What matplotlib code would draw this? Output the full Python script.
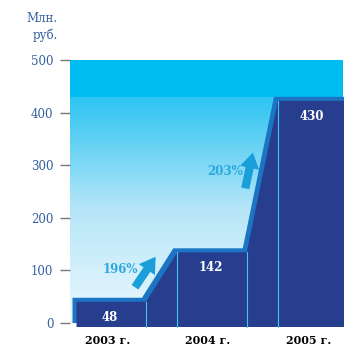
import numpy as np
import matplotlib
matplotlib.use("Agg")
from matplotlib import pyplot as plt
from matplotlib import transforms
from matplotlib.colors import LinearSegmentedColormap

years = ["2003 г.", "2004 г.", "2005 г."]
revenue = [48, 142, 430]
growth = ["196%", "203%"]
yticks = [0, 100, 200, 300, 400, 500]

DARK = "#273d8d"
BEVEL = "#1c74c4"
EDGE = "#42c4f0"
CYAN = "#00bdf1"
ARROW = "#1a9fda"
TICK_BLUE = "#33609f"

HALF = 0.345  # half width of each flat step

fig = plt.figure(figsize=(3.44, 3.46), dpi=100)
W, H = 344, 346
ax = fig.add_axes([70 / W, (H - 323) / H, 273 / W, 263 / H])
ax.set_xlim(-0.37, 2.34)
ax.set_ylim(0, 500)

# background: solid cyan above the top step, fading to white below
grad = LinearSegmentedColormap.from_list("bg", ["#ecf8fd", "#b6e6f8", "#2cc4f1"])
ys = np.linspace(0, 1, 256).reshape(-1, 1)
ax.imshow(ys, extent=(-0.37, 2.34, 0, revenue[-1]), origin="lower",
          cmap=grad, aspect="auto", zorder=0)
ax.axhspan(revenue[-1], 500, color=CYAN, lw=0, zorder=0)

# step outline built from the values
xs, vs = [], []
for i, v in enumerate(revenue):
    xs += [i - HALF, i + HALF]
    vs += [v, v]
poly_x = [xs[0]] + xs + [xs[-1] + 0.2, xs[-1] + 0.2, xs[0]]
poly_y = [0] + vs + [vs[-1], 0, 0]

front = transforms.offset_copy(ax.transData, fig=fig, x=4, y=-4, units="dots")
ax.fill(poly_x, poly_y, color=BEVEL, lw=0, zorder=2, clip_on=False)
ax.fill(poly_x, poly_y, color=DARK, lw=0, zorder=3, clip_on=False, transform=front)

# light seams where the steps meet the slopes
for x, v in zip(xs[1:-1], vs[1:-1]):
    ax.plot([x, x], [0, v], color=EDGE, lw=0.8, zorder=4, transform=front,
            clip_on=False)

for i, v in enumerate(revenue):
    ax.annotate(str(v), (i, v), xytext=(2, -14), textcoords="offset points",
                ha="center", va="center", color="white", fontsize=8.5,
                fontweight="bold", family="DejaVu Serif", zorder=5)

# growth arrows on the slopes
arrow_pos = [((0.275, 68), (0.48, 126)), ((1.37, 256), (1.445, 324))]
text_pos = [(0.13, 101), (1.17, 288)]
for lbl, (tail, tip), tp in zip(growth, arrow_pos, text_pos):
    ax.annotate("", xy=tip, xytext=tail,
                arrowprops=dict(arrowstyle="simple,head_width=1.0,head_length=0.8,tail_width=0.42",
                                color=ARROW, lw=0, mutation_scale=14,
                                shrinkA=0, shrinkB=0),
                zorder=5)
    ax.text(tp[0], tp[1], lbl, ha="center", va="center", color="#2aa8df",
            fontsize=8.5, fontweight="bold", family="DejaVu Serif", zorder=5)

for s in ax.spines.values():
    s.set_visible(False)
ax.set_yticks(yticks)
ax.set_yticklabels([str(t) for t in yticks], color=TICK_BLUE, fontsize=8.5,
                   family="DejaVu Serif")
ax.tick_params(axis="y", length=7, width=1, color="#777777", pad=5)
ax.set_xticks(range(len(years)))
ax.set_xticklabels(years, fontsize=8, fontweight="bold", family="DejaVu Serif")
ax.tick_params(axis="x", length=0, pad=9)

fig.text(58 / W, 1 - 27 / H, "Млн.\nруб.", ha="right", va="center",
         color=TICK_BLUE, fontsize=8.5, family="DejaVu Serif", linespacing=1.3)

fig.savefig("out.png", dpi=100)
